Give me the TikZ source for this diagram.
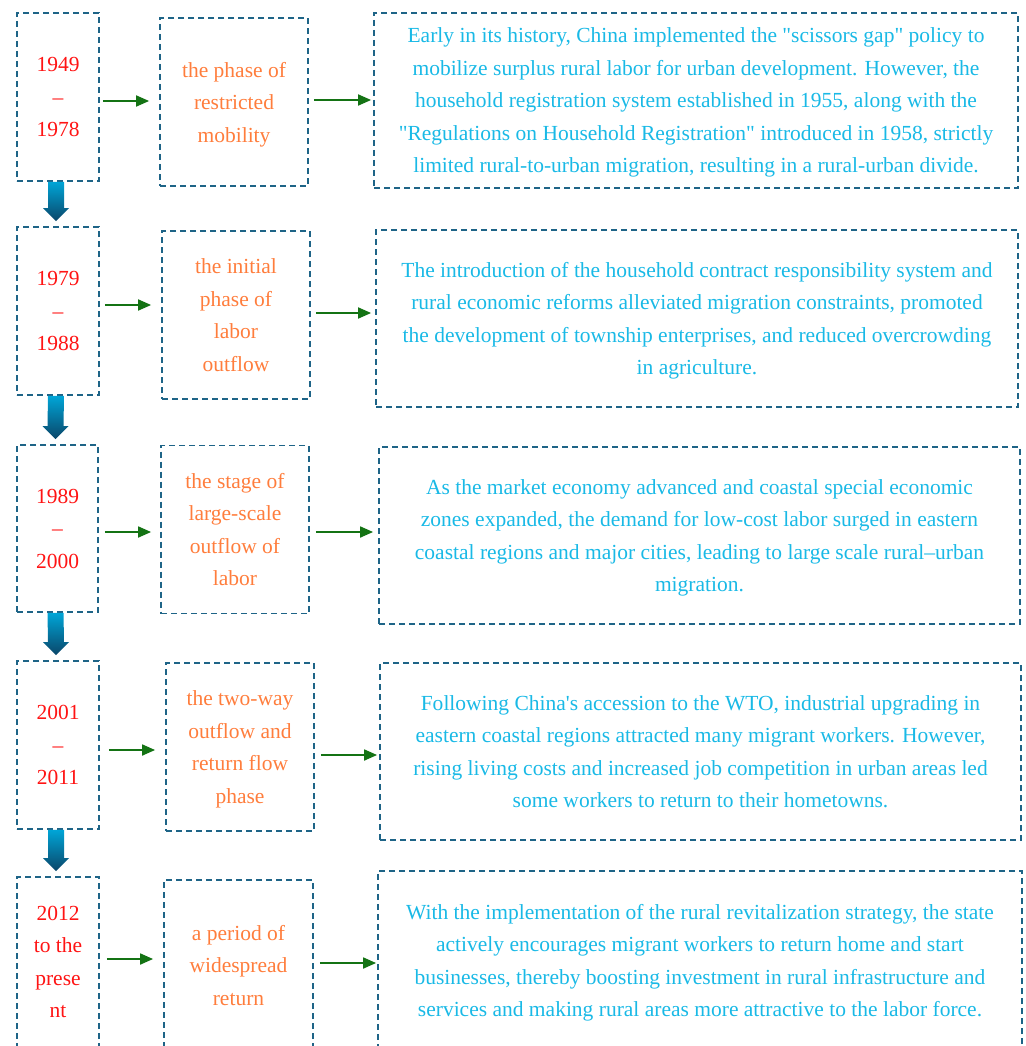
\documentclass[tikz,border=0pt]{standalone}
\usepackage{fontspec}
\setmainfont{Liberation Serif}[Ligatures=TeXOff]
\usetikzlibrary{arrows.meta,calc}
\definecolor{yearred}{RGB}{255,20,20}
\definecolor{phaseorange}{RGB}{255,125,60}
\definecolor{desccyan}{RGB}{25,185,230}
\definecolor{boxblue}{RGB}{30,100,135}
\definecolor{flowgreen}{RGB}{20,115,20}
\definecolor{downtop}{RGB}{0,165,215}
\definecolor{downbot}{RGB}{10,70,105}
\tikzset{
  box/.style={draw=boxblue, line width=1.8pt, dash pattern=on 6pt off 4pt,
    inner sep=0pt, align=center, font=\fontsize{21.5}{32.5}\selectfont,
    text depth=-1pt},
  yearbox/.style={box, text=yearred, minimum width=82pt, minimum height=168pt},
  phasebox/.style={box, text=phaseorange, minimum width=148pt, minimum height=168pt},
  descbox/.style={box, text=desccyan, minimum width=642pt, minimum height=177pt},
  flow/.style={draw=flowgreen, line width=1.8pt, -{Triangle[length=13pt,width=11pt]}},
}
\newcommand{\downarrowshape}[2]{%
  \shade[top color=downtop, bottom color=downbot]
    ($(#1.south)+(-10,0)$) -- ($(#1.south)+(6,0)$) -- ($(#2.north)+(6,-18)$)
    -- ($(#2.north)+(11,-18)$) -- ($(#2.north)+(-2,-5)$) -- ($(#2.north)+(-15,-18)$)
    -- ($(#2.north)+(-10,-18)$) -- cycle;}
\begin{document}
\begin{tikzpicture}[x=1pt,y=-1pt]
\useasboundingbox (0,0) rectangle (1025,1046);
\clip (0,0) rectangle (1025,1046);
% row 1
\node[yearbox] (y1) at (58,97) {1949\\–\\1978};
\node[phasebox] (p1) at (234,102) {the phase of\\restricted\\mobility};
\node[descbox, minimum width=644pt, minimum height=175pt] (t1) at (696,100.5) {Early in its history, China implemented the "scissors gap" policy to\\mobilize surplus rural labor for urban development. However, the\\household registration system established in 1955, along with the\\"Regulations on Household Registration" introduced in 1958, strictly\\limited rural-to-urban migration, resulting in a rural-urban divide.};
% row 2
\node[yearbox] (y2) at (58,311) {1979\\–\\1988};
\node[phasebox] (p2) at (236,315) {the initial\\phase of\\labor\\outflow};
\node[descbox] (t2) at (697,318.5) {The introduction of the household contract responsibility system and\\rural economic reforms alleviated migration constraints, promoted\\the development of township enterprises, and reduced overcrowding\\in agriculture.};
% row 3
\node[yearbox, minimum width=81pt, minimum height=167pt] (y3) at (57.5,528.5) {1989\\–\\2000};
\node[phasebox] (p3) at (235,529.5) {the stage of\\large-scale\\outflow of\\labor};
\node[descbox, minimum width=641pt] (t3) at (699.5,535.5) {As the market economy advanced and coastal special economic\\zones expanded, the demand for low-cost labor surged in eastern\\coastal regions and major cities, leading to large scale rural–urban\\migration.};
% row 4
\node[yearbox] (y4) at (58,745) {2001\\–\\2011};
\node[phasebox] (p4) at (240,747) {the two-way\\outflow and\\return flow\\phase};
\node[descbox, minimum width=641pt] (t4) at (700.5,751.5) {Following China's accession to the WTO, industrial upgrading in\\eastern coastal regions attracted many migrant workers. However,\\rising living costs and increased job competition in urban areas led\\some workers to return to their hometowns.};
% row 5
\node[yearbox, minimum height=170pt] (y5) at (58,962) {2012\\to the\\prese\\nt};
\node[phasebox, minimum width=149pt, minimum height=170pt] (p5) at (238.5,965) {a period of\\widespread\\return};
\node[descbox, minimum width=644pt, minimum height=179pt] (t5) at (700,960.5) {With the implementation of the rural revitalization strategy, the state\\actively encourages migrant workers to return home and start\\businesses, thereby boosting investment in rural infrastructure and\\services and making rural areas more attractive to the labor force.};
% horizontal connectors
\draw[flow, shorten <=3pt, shorten >=10pt] (y1.east |- 0,101) -- (p1.west |- 0,101);
\draw[flow, shorten <=5pt, shorten >=2pt] (p1.east |- 0,100) -- (t1.west |- 0,100);
\draw[flow, shorten <=5pt, shorten >=10pt] (y2.east |- 0,305) -- (p2.west |- 0,305);
\draw[flow, shorten <=5pt, shorten >=4pt] (p2.east |- 0,313) -- (t2.west |- 0,313);
\draw[flow, shorten <=6pt, shorten >=9pt] (y3.east |- 0,532) -- (p3.west |- 0,532);
\draw[flow, shorten <=6pt, shorten >=5pt] (p3.east |- 0,532) -- (t3.west |- 0,532);
\draw[flow, shorten <=9pt, shorten >=10pt] (y4.east |- 0,750) -- (p4.west |- 0,750);
\draw[flow, shorten <=6pt, shorten >=2pt] (p4.east |- 0,755) -- (t4.west |- 0,755);
\draw[flow, shorten <=7pt, shorten >=10pt] (y5.east |- 0,959) -- (p5.west |- 0,959);
\draw[flow, shorten <=6pt, shorten >=1pt] (p5.east |- 0,963) -- (t5.west |- 0,963);
% vertical block arrows
\downarrowshape{y1}{y2}
\downarrowshape{y2}{y3}
\downarrowshape{y3}{y4}
\downarrowshape{y4}{y5}
\end{tikzpicture}
\end{document}
